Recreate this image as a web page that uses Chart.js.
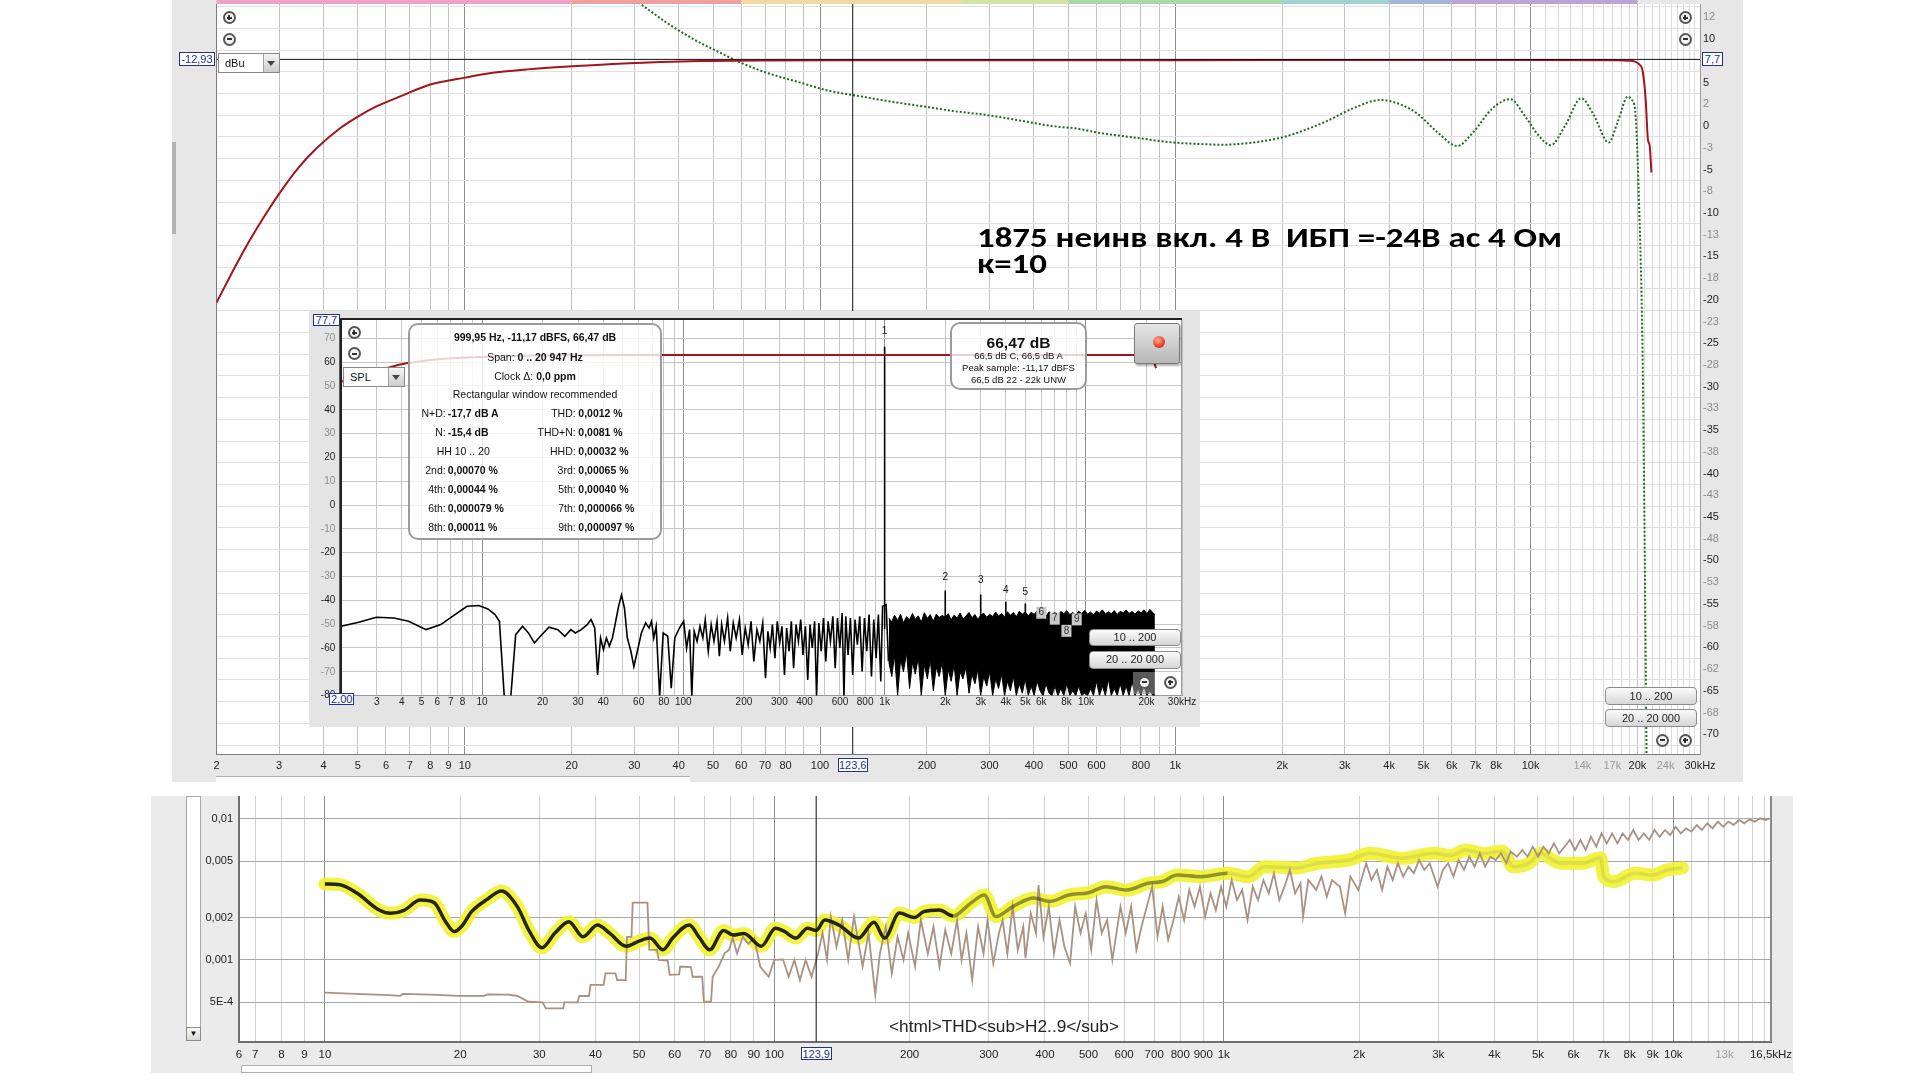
<!DOCTYPE html>
<html><head><meta charset="utf-8">
<script src="https://cdn.jsdelivr.net/npm/chart.js@4.4.1/dist/chart.umd.min.js"></script>
<style>
html,body{margin:0;padding:0;background:#fff;}
#root{position:relative;width:1930px;height:1080px;overflow:hidden;font-family:'Liberation Sans',Arial,sans-serif;color:#111;}
.abs{position:absolute;}
canvas{display:block;}
.zi{position:absolute;width:13px;height:13px;border-radius:50%;border:2px solid #555;box-sizing:border-box;background:#f4f4f4;}
.zi:before{content:'';position:absolute;left:2px;right:2px;top:50%;height:2px;margin-top:-1px;background:#333;}
.zi.p:after{content:'';position:absolute;top:2px;bottom:2px;left:50%;width:2px;margin-left:-1px;background:#333;}
.dd{position:absolute;background:#fff;border:1px solid #8a8a8a;box-sizing:border-box;font-size:11px;}
.dd span{position:absolute;left:6px;top:3px;}
.dd i{position:absolute;right:0;top:0;bottom:0;width:15px;background:linear-gradient(#f4f4f4,#cdcdcd);border-left:1px solid #a0a0a0;}
.dd i:after{content:'';position:absolute;left:3px;top:7px;border-left:4.5px solid transparent;border-right:4.5px solid transparent;border-top:5px solid #444;}
.cb{position:absolute;border:1px solid #22308f;background:#fff;color:#22308f;font-size:11px;text-align:center;box-sizing:border-box;line-height:12px;}
.btn{position:absolute;border:1px solid #8c8c8c;border-radius:4px;background:linear-gradient(#fbfbfb,#d6d6d6);box-sizing:border-box;font-size:11px;text-align:center;color:#222;}
.ib{position:absolute;border:2px solid #9b9b9b;border-radius:10px;background:rgba(255,255,255,0.8);box-sizing:border-box;font-size:10.5px;color:#111;}
.ib div{position:absolute;white-space:nowrap;height:14px;line-height:14px;}
</style></head>
<body><div id="root">
<div class="abs" style="left:172px;top:0;width:1571px;height:782px;background:#e7e7e7"><canvas id="mainC" width="1571" height="782" style="width:1571px;height:782px"></canvas></div>
<div class="abs" style="left:172px;top:142px;width:4px;height:92px;background:#b4b4b4"></div>
<div class="abs" style="left:216px;top:776px;width:474px;height:6px;background:#fff;border-top:1px solid #b0b0b0"></div>
<div class="abs" style="left:309px;top:311px;width:891px;height:416px;background:#e4e4e4"><canvas id="insetC" width="891" height="416" style="width:891px;height:416px"></canvas></div>
<div class="abs" style="left:151px;top:796px;width:1642px;height:277px;background:#ebebeb"><canvas id="thdC" width="1642" height="277" style="width:1642px;height:277px"></canvas></div>
<div class="abs" style="left:186px;top:796px;width:15px;height:245px;background:#fff;border:1px solid #a8a8a8;box-sizing:border-box"></div>
<div class="abs" style="left:186px;top:1027px;width:15px;height:14px;background:linear-gradient(#fafafa,#d8d8d8);border:1px solid #8c8c8c;box-sizing:border-box;font-size:8px;text-align:center;line-height:12px">&#9660;</div>
<div class="abs" style="left:241px;top:1065px;width:351px;height:8px;background:#fff;border:1px solid #b0b0b0;box-sizing:border-box"></div>
</div>
<script>
// ---------------- DATA ----------------
// main chart: frequency response (left axis, dBu)
const redFreq  = [2, 2.2, 2.4, 2.7, 3.0, 3.4, 3.8, 4.4, 5.0, 5.6, 6.5, 8.0, 10, 12, 15, 20, 28, 46, 70, 150, 500, 2000, 10000, 17000, 19000, 19600, 20200, 20700, 21100, 21400, 21650, 21900];
const redLevel = [-24.13, -22.82, -21.67, -20.27, -19.12, -17.92, -17.07, -16.17, -15.57, -15.12, -14.67, -14.09, -13.77, -13.55, -13.39, -13.25, -13.12, -13.01, -12.98, -12.97, -12.97, -12.96, -12.96, -12.97, -12.99, -13.02, -13.15, -13.5, -14.8, -16.6, -16.9, -18.14];
// main chart: dotted green curve (right axis)
const greenFreq  = [22, 27, 31.6, 37, 44.5, 52, 59, 70, 88, 105, 131, 165, 200, 240, 291, 370, 450, 530, 614, 760, 991, 1150, 1350, 1650, 2000, 2300, 2680, 3150, 3780, 4300, 4810, 5500, 6220, 6900, 7800, 8760, 9700, 10500, 11400, 12500, 13900, 15100, 16600, 17600, 18800, 19300, 19700, 20200, 20700, 21300];
const greenLevel = [18.5, 15.8, 13.9, 11.9, 9.9, 8.5, 7.4, 6.2, 5.0, 4.1, 3.4, 2.7, 2.2, 1.7, 1.3, 0.6, 0.0, -0.3, -0.8, -1.3, -1.9, -2.05, -2.15, -1.9, -1.3, -0.5, 0.6, 2.0, 3.0, 2.5, 1.4, -0.8, -2.3, -0.7, 2.0, 3.1, 1.0, -1.0, -2.2, 0.0, 3.2, 1.2, -1.9, 0.5, 3.4, 3.0, 1.8, -8.6, -27.8, -80];
const mainCursorHz = 123.6;
const mainCursorDbu = -12.93;
const bandEdges  = [2, 20, 60, 250, 500, 2000, 4000, 6000, 20000];
const bandColors = ['#eea3c6', '#ee9f9f', '#f2d9a4', '#d3e4a8', '#a9d9ab', '#9fd2d0', '#a5b4db', '#baa6d3'];
// main axes
const mainXTicks  = [2,3,4,5,6,7,8,9,10,20,30,40,50,60,70,80,90,100,200,300,400,500,600,700,800,900,1000,2000,3000,4000,5000,6000,7000,8000,9000,10000,11000,12000,13000,14000,15000,16000,17000,18000,19000,20000,21000,22000,23000,24000,25000,26000,27000,28000,29000,30000];
const mainXLabels = ['2','3','4','5','6','7','8','9','10','20','30','40','50','60','70','80','','100','200','300','400','500','600','','800','','1k','2k','3k','4k','5k','6k','7k','8k','','10k','','','','14k','','','17k','','','20k','','','','24k','','','','','','30kHz'];
const mainXLight  = ['14k','17k','24k'];
const leftYTicks  = [-44,-43,-42,-41,-40,-39,-38,-37,-36,-35,-34,-33,-32,-31,-30,-29,-28,-27,-26,-25,-24,-23,-22,-21,-20,-19,-18,-17,-16,-15,-14,-13,-12,-11];
const rightYTicks = [12.5,10,7.5,5,2.5,0,-2.5,-5,-7.5,-10,-12.5,-15,-17.5,-20,-22.5,-25,-27.5,-30,-32.5,-35,-37.5,-40,-42.5,-45,-47.5,-50,-52.5,-55,-57.5,-60,-62.5,-65,-67.5,-70];
const rightYLabels= ['12','10','','5','2','0','-3','-5','-8','-10','-13','-15','-18','-20','-23','-25','-28','-30','-33','-35','-38','-40','-43','-45','-48','-50','-53','-55','-58','-60','-62','-65','-68','-70'];

// inset: FFT spectrum (dB SPL)
const fftLowFreq = [2, 2.44, 2.99, 3.65, 4.32, 5.28, 6.24, 7.13, 8.43, 9.63,
  10.7, 11.6, 12.2, 12.9, 13.9, 14.7, 15.9, 17.0, 18.2, 19.5,
  21.5, 23.8, 25.8, 27.6, 29.1, 31.1, 33.3, 34.8, 36.3, 37.5,
  38.8, 40.1, 41.5, 42.9, 44.4, 45.8, 47.7, 49.3, 51.0, 52.7,
  54.9, 56.8, 59.1, 61.9, 65.0, 67.6, 69.5, 71.3, 73.3, 76.3,
  79.4, 83.7, 87.1, 90.7, 95.7, 100.4, 103.8, 107.4, 110.2, 113.2,
  117, 121, 125, 128.5, 133, 137.5, 142, 147, 151, 155,
  160, 166, 171, 177, 183, 190, 196, 203, 210, 217,
  224, 232, 240, 248, 256, 263, 270, 277, 285, 293,
  301, 309, 318, 326, 335, 344, 353, 363, 373, 383,
  393, 404, 415, 426, 437, 449, 459, 471, 484, 497,
  510, 524, 538, 553, 568, 583, 599, 615, 628, 641,
  658, 676, 694, 713, 732, 752, 773, 794, 815, 837,
  860, 883, 907, 931, 957, 977, 1017, 1045];
const fftLowLevel = [-50.9, -49.2, -47.1, -47.4, -48.8, -52.3, -50.2, -46.7, -42.5, -42.2,
  -43.6, -46.0, -48.8, -80.4, -80.4, -54.4, -50.9, -53.7, -57.9, -55.1,
  -51.3, -52.3, -55.1, -52.3, -53.7, -52.3, -50.2, -48.1, -51.6, -71.3,
  -55.8, -60.7, -55.8, -59.3, -55.8, -50.2, -42.5, -37.8, -43.2, -55.8,
  -61.4, -67.8, -61.4, -53.7, -49.5, -51.6, -48.8, -55.8, -50.9, -80.4,
  -53.7, -55.1, -76.9, -55.8, -51.6, -48.8, -60, -52.3, -80.4, -53,
  -57.2, -50.9, -55.8, -48.1, -61.4, -50.2, -57.2, -48.8, -63.5, -50.2,
  -57.2, -47.4, -61.4, -49.5, -55.8, -48.1, -62.9, -51.6, -58.6, -48.8,
  -65.7, -52.3, -57.2, -49.5, -72.7, -53, -60, -50.2, -64.3, -48.8,
  -57.9, -50.9, -71.3, -51.6, -61.4, -48.8, -68.5, -50.2, -57.2, -48.1,
  -62.9, -50.9, -73.4, -50.2, -60, -48.8, -80.4, -49.5, -61.4, -47.4,
  -65.7, -48.8, -57.2, -46.7, -68.5, -47.4, -60, -45.3, -80.4, -46.7,
  -62.9, -47.4, -71.3, -48.1, -58.6, -46.7, -69.9, -47.4, -61.4, -46,
  -72, -48.1, -64.3, -46, -74.1, -42.5, -41.8, -65.7];
// dense noise above 1 kHz: upper and lower envelope
const envFreq = [1050, 1085, 1120, 1160, 1200, 1240, 1285, 1330, 1375, 1420,
  1470, 1520, 1575, 1630, 1685, 1745, 1805, 1865, 1930, 2000,
  2070, 2140, 2215, 2290, 2370, 2450, 2535, 2625, 2715, 2810,
  2905, 3000, 3105, 3215, 3325, 3440, 3560, 3680, 3810, 3940,
  4075, 4215, 4360, 4510, 4665, 4830, 4995, 5170, 5345, 5530,
  5720, 5920, 6125, 6335, 6555, 6780, 7015, 7255, 7505, 7765,
  8035, 8310, 8600, 8895, 9200, 9520, 9850, 10190, 10540, 10900,
  11280, 11670, 12070, 12490, 12920, 13360, 13820, 14300, 14800, 15310,
  15840, 16380, 16950, 17530, 18140, 18770, 19410, 20080, 20780, 21500, 22000];
const envUpper = [-47.5, -49.0, -46.2, -48.5, -45.8, -49.5, -46.8, -48.2, -45.5, -47.9,
  -46.5, -49.2, -45.2, -47.6, -46.0, -48.8, -45.8, -47.2, -46.4, -47.0,
  -45.6, -48.1, -46.2, -47.5, -45.3, -47.8, -46.6, -45.1, -47.3, -46.0,
  -48.0, -46.2, -45.4, -47.1, -45.9, -46.8, -44.9, -46.6, -45.5, -47.0,
  -44.8, -46.3, -45.1, -46.9, -44.6, -45.8, -44.9, -46.5, -45.0, -45.9,
  -44.5, -46.2, -45.3, -46.7, -44.8, -45.9, -45.0, -46.4, -44.7, -45.6,
  -44.4, -46.0, -45.1, -46.3, -44.6, -45.5, -44.2, -45.8, -44.9, -46.1,
  -44.5, -45.4, -44.0, -45.7, -44.8, -45.6, -44.3, -45.9, -44.6, -45.2,
  -44.1, -45.5, -44.7, -45.8, -44.4, -45.3, -44.0, -45.6, -43.8, -45.2, -46.0];
const envLower = [-66, -72, -63, -80, -65, -70, -62, -77, -66, -71,
  -64, -80, -67, -73, -65, -78, -68, -72, -66, -80,
  -69, -74, -67, -80, -70, -73, -68, -79, -71, -75,
  -69, -80, -72, -76, -70, -80, -73, -77, -71, -80,
  -74, -78, -72, -80, -75, -79, -73, -80, -76, -80,
  -74, -78, -80, -75, -79, -80, -76, -80, -77, -80,
  -75, -80, -78, -80, -76, -80, -79, -80, -77, -80,
  -74, -80, -76, -80, -73, -80, -77, -80, -75, -80,
  -76, -80, -74, -80, -77, -80, -75, -80, -78, -80, -80];
const harmFreq  = [1000, 2000, 3000, 4000, 5000, 6000, 7000, 8000, 9000];
const harmLevel = [66.5, -35.9, -37.6, -40.6, -41.3, -45.5, -47.0, -52.0, -47.5];
const harmLabel = ['1','2','3','4','5','6','7','8','9'];
const harmLabelLevel = [72.8, -30.3, -31.5, -35.7, -36.8, -45.2, -47.7, -52.8, -48.0];
const fftRedFreq  = [2, 2.5, 3, 3.6, 4.2, 5, 6, 8, 10.5, 15, 20, 50, 200, 1000, 10000, 19000, 20500, 21500, 22300];
const fftRedLevel = [51.8, 54.5, 56.5, 58.2, 59.5, 60.4, 61.2, 61.9, 62.3, 62.6, 62.8, 63, 63, 63, 63, 63, 62.5, 61, 57.5];
const insetXTicks  = [2,3,4,5,6,7,8,9,10,20,30,40,50,60,70,80,90,100,200,300,400,500,600,700,800,900,1000,2000,3000,4000,5000,6000,7000,8000,9000,10000,20000,30000];
const insetXLabels = ['','3','4','5','6','7','8','','10','20','30','40','','60','','80','','100','200','300','400','','600','','800','','1k','2k','3k','4k','5k','6k','','8k','','10k','20k','30kHz'];
const insetYTicks  = [-80,-75,-70,-65,-60,-55,-50,-45,-40,-35,-30,-25,-20,-15,-10,-5,0,5,10,15,20,25,30,35,40,45,50,55,60,65,70,75];

// THD chart
const thdFreq = [10, 10.8, 11.8, 13.2, 14.0, 15.0, 16.3, 17.5, 18.5, 19.4, 20.2, 21.2, 23.0, 24.7, 26.8, 28.5, 30.4, 32.5, 34.9, 37.5, 40.4, 43, 46.8, 50, 52.9, 56.5, 59.4, 64.7, 68, 71.8, 77.1, 81, 85.6, 93.5, 100.6, 105, 111.7, 118.5, 124, 129.4, 140, 153.8, 166.6, 175.9, 189.7, 205, 215, 232.8, 250, 273.1, 293.2, 311, 340, 378, 410, 452, 500, 546, 608, 678, 730, 787, 889, 1019, 1135, 1231, 1449, 1615, 1900, 2117, 2493, 2933, 3200, 3451, 3800, 4171, 4402, 4780, 5051, 5623, 6270, 6890, 7000, 7380, 8220, 9000, 9660, 10490];
const thdValue = [3.46e-3, 3.42e-3, 2.97e-3, 2.26e-3, 2.14e-3, 2.25e-3, 2.66e-3, 2.55e-3, 1.9e-3, 1.59e-3, 1.75e-3, 2.2e-3, 2.7e-3, 3.08e-3, 2.39e-3, 1.6e-3, 1.22e-3, 1.55e-3, 1.87e-3, 1.46e-3, 1.77e-3, 1.55e-3, 1.25e-3, 1.36e-3, 1.43e-3, 1.18e-3, 1.43e-3, 1.77e-3, 1.45e-3, 1.18e-3, 1.62e-3, 1.5e-3, 1.54e-3, 1.25e-3, 1.68e-3, 1.6e-3, 1.43e-3, 1.68e-3, 1.62e-3, 1.92e-3, 1.75e-3, 1.43e-3, 1.85e-3, 1.43e-3, 2.15e-3, 2.0e-3, 2.2e-3, 2.26e-3, 2.05e-3, 2.52e-3, 2.89e-3, 2.03e-3, 2.4e-3, 2.75e-3, 2.6e-3, 2.89e-3, 3.0e-3, 3.31e-3, 3.13e-3, 3.5e-3, 3.6e-3, 4.01e-3, 3.9e-3, 4.12e-3, 3.9e-3, 4.59e-3, 4.5e-3, 4.85e-3, 5.12e-3, 5.71e-3, 5.26e-3, 5.71e-3, 5.5e-3, 6.03e-3, 5.7e-3, 5.9e-3, 4.59e-3, 4.85e-3, 5.71e-3, 4.85e-3, 4.85e-3, 5.3e-3, 3.9e-3, 3.6e-3, 4.12e-3, 4.0e-3, 4.35e-3, 4.5e-3];
const noiseFreq = [10, 11.7, 13.9, 14.7, 14.9, 17.2, 19.9, 22.6, 23.0, 25.6, 26.8, 28.4, 30.5, 31.0, 33.9, 34.1, 36.5, 36.8, 38.7, 39.0, 41.7, 42.1, 44.3, 44.7, 46.7, 47.0, 48.1, 48.4, 52.2, 52.7, 54.8, 55.3, 57.9, 58.5, 61.4, 61.7, 65.2, 65.8, 69.1, 69.7, 72.3, 72.9, 75.2, 77.5, 79.3, 80.8, 82.6, 85.1, 87.5, 90.2, 93.0, 97.1, 100, 104.5, 107.6, 110.8, 114, 117.4, 121, 125.1, 128, 131, 133.5, 137.5, 141.6, 146, 150.4, 157.2, 162, 167.7, 171.7, 177, 182.5, 188, 193.8, 198.5, 205.6, 211.8, 219.5, 226, 233, 240, 247.5, 255, 261, 267.5, 275.5, 284, 292, 298, 307, 316,
  322, 330, 339, 348, 358, 362, 372, 382, 387, 397, 408, 419, 431, 442, 455, 467, 480, 493, 507, 521, 535, 550, 565, 589, 605, 622, 639, 656, 674, 693, 712, 731, 752, 773, 794, 816, 838, 861, 885, 909, 934, 960, 986, 1013, 1041, 1070, 1099, 1129, 1160, 1192, 1225, 1259, 1293, 1329, 1365, 1403, 1441, 1481, 1501, 1542, 1605, 1649, 1695, 1741, 1813, 1862, 1913, 1992, 2074, 2131, 2190, 2250, 2312, 2375, 2440, 2507, 2576, 2647, 2720, 2794, 2871, 2990, 3072, 3156, 3243, 3332, 3423, 3517, 3614, 3713, 3815, 3920, 4028, 4138, 4252, 4345, 4490, 4613, 4740, 4870, 5004, 5141, 5282, 5427, 5576, 5729, 5887, 6048, 6214, 6385, 6560, 6740, 6925, 7116, 7311, 7512, 7718, 7930, 8147, 8371, 8601, 8837, 9080, 9329, 9585, 9848, 10118, 10396, 10681, 10974, 11275, 11585, 11903, 12230, 12566, 12911, 13265, 13629, 14003, 14388, 14783, 15188, 15605, 16034, 16382];
const noiseValue = [5.87e-4, 5.74e-4, 5.62e-4, 5.56e-4, 5.74e-4, 5.67e-4, 5.56e-4, 5.56e-4, 5.7e-4, 5.67e-4, 5.55e-4, 5.05e-4, 5.0e-4, 4.53e-4, 4.53e-4, 5.0e-4, 5.0e-4, 5.55e-4, 5.55e-4, 6.65e-4, 6.65e-4, 8.04e-4, 8.04e-4, 7.2e-4, 7.2e-4, 1.46e-3, 1.46e-3, 2.55e-3, 2.55e-3, 1.18e-3, 1.18e-3, 1.0e-3, 9.9e-4, 7.83e-4, 7.9e-4, 8.98e-4, 8.9e-4, 7.6e-4, 7.6e-4, 5.06e-4, 5.06e-4, 7.6e-4, 8.98e-4, 1.115e-3, 1.18e-3, 1.43e-3, 1.11e-3, 1.46e-3, 1.3e-3, 1.43e-3, 8.98e-4, 7.6e-4, 1.0e-3, 1.01e-3, 7.6e-4, 1.0e-3, 7.2e-4, 1.0e-3, 7.6e-4, 1.11e-3, 1.55e-3, 1.0e-3, 2.03e-3, 1.24e-3, 1.92e-3, 1.0e-3, 2.03e-3, 8.98e-4, 1.55e-3, 5.67e-4, 1.11e-3, 1.72e-3, 8.04e-4, 1.46e-3, 1.0e-3, 1.55e-3, 8.98e-4, 1.92e-3, 1.11e-3, 1.72e-3, 8.98e-4, 1.63e-3, 1.11e-3, 1.92e-3, 1.0e-3, 1.55e-3, 7.2e-4, 1.72e-3, 1.11e-3, 1.92e-3, 9.47e-4, 1.55e-3,
  1.92e-3, 1.11e-3, 2.39e-3, 1.18e-3, 1.72e-3, 1.03e-3, 2.14e-3, 1.55e-3, 3.4e-3, 1.46e-3, 2.39e-3, 1.11e-3, 1.92e-3, 1.24e-3, 9.47e-4, 2.39e-3, 1.55e-3, 2.14e-3, 1.18e-3, 2.66e-3, 1.55e-3, 1.92e-3, 1.0e-3, 2.39e-3, 1.55e-3, 2.39e-3, 1.18e-3, 1.72e-3, 2.39e-3, 3.31e-3, 1.46e-3, 2.39e-3, 1.39e-3, 1.92e-3, 2.81e-3, 1.92e-3, 3.14e-3, 2.39e-3, 3.31e-3, 2.03e-3, 2.97e-3, 2.26e-3, 3.31e-3, 2.39e-3, 3.69e-3, 2.66e-3, 3.14e-3, 1.92e-3, 3.31e-3, 2.66e-3, 3.69e-3, 2.97e-3, 4.12e-3, 2.66e-3, 3.31e-3, 4.35e-3, 2.97e-3, 3.5e-3, 2.03e-3, 3.69e-3, 3.14e-3, 3.9e-3, 2.81e-3, 3.69e-3, 3.31e-3, 2.14e-3, 3.9e-3, 3.14e-3, 4.85e-3, 3.69e-3, 4.35e-3, 3.14e-3, 4.59e-3, 3.69e-3, 4.85e-3, 3.9e-3, 4.59e-3, 4.12e-3, 5.12e-3, 4.35e-3, 4.85e-3, 3.31e-3, 4.35e-3, 4.85e-3, 3.9e-3, 5.12e-3, 4.35e-3, 5.4e-3, 4.59e-3, 5.71e-3, 4.59e-3, 5.4e-3, 5.12e-3, 5.71e-3, 4.85e-3, 5.87e-3, 5.4e-3, 6.03e-3, 5.4e-3, 6.36e-3, 5.4e-3, 6.36e-3, 5.71e-3, 6.72e-3, 5.71e-3, 6.36e-3, 7.1e-3, 6.03e-3, 7.1e-3, 6.03e-3, 7.49e-3, 6.36e-3, 7.91e-3, 6.72e-3, 7.91e-3, 6.72e-3, 7.91e-3, 7.1e-3, 8.36e-3, 7.1e-3, 7.91e-3, 7.1e-3, 8.36e-3, 7.49e-3, 8.36e-3, 7.7e-3, 8.82e-3, 7.91e-3, 8.59e-3, 8.13e-3, 9.07e-3, 8.36e-3, 9.32e-3, 8.59e-3, 9.57e-3, 8.82e-3, 9.57e-3, 9.07e-3, 9.84e-3, 9.32e-3, 9.9e-3, 9.57e-3, 1.011e-2, 9.84e-3, 1.011e-2];
const thdCursorHz = 123.9;
const thdXTicks  = [6.44,7,8,9,10,20,30,40,50,60,70,80,90,100,200,300,400,500,600,700,800,900,1000,2000,3000,4000,5000,6000,7000,8000,9000,10000,11000,12000,13000,14000,15000,16000,16500];
const thdXLabels = ['6','7','8','9','10','20','30','40','50','60','70','80','90','100','200','300','400','500','600','700','800','900','1k','2k','3k','4k','5k','6k','7k','8k','9k','10k','','','13k','','','','16,5kHz'];
const thdYTicks  = [0.0005, 0.001, 0.002, 0.005, 0.01];
const thdYLabels = ['5E-4', '0,001', '0,002', '0,005', '0,01'];

// ---------------- HELPERS ----------------
const FONT = "'Liberation Sans', Arial, sans-serif";
Chart.defaults.font.family = FONT;
function P(xs, ys){ return xs.map((x,i)=>({x:x, y:ys[i]})); }
function fixAxis(size, horiz){ return function(s){ if(horiz) s.height=size; else s.width=size; s.paddingTop=0; s.paddingBottom=0; s.paddingLeft=0; s.paddingRight=0; }; }
function setTicks(vals){ return function(s){ s.ticks = vals.map(v=>({value:v})); }; }
const isDecade = v => Math.abs(Math.log10(v) - Math.round(Math.log10(v))) < 1e-9;
const plotBg = {id:'plotBg', beforeDraw(chart){ const a=chart.chartArea, c=chart.ctx; c.save(); c.fillStyle='#fff'; c.fillRect(a.left,a.top,a.right-a.left,a.bottom-a.top); c.restore(); }};
const bandStrip = {id:'bandStrip', afterDraw(chart){ const x=chart.scales.x, a=chart.chartArea, c=chart.ctx; c.save();
  for(let i=0;i<bandColors.length;i++){ const x0=Math.max(a.left,x.getPixelForValue(bandEdges[i])), x1=Math.min(a.right,x.getPixelForValue(bandEdges[i+1])); c.fillStyle=bandColors[i]; c.fillRect(x0,0,x1-x0,a.top); }
  c.restore(); }};
const insetFrame = {id:'insetFrame', afterDraw(chart){ const a=chart.chartArea, c=chart.ctx, x=chart.scales.x, y=chart.scales.y; c.save();
  c.strokeStyle='#9a9a9a'; c.lineWidth=1; c.beginPath(); c.moveTo(a.right-0.5,a.top); c.lineTo(a.right-0.5,a.bottom); c.stroke();
  c.strokeStyle='#222'; c.lineWidth=2; c.beginPath(); c.moveTo(a.left-1,a.bottom); c.lineTo(a.left-1,a.top-1); c.lineTo(a.right,a.top-1); c.stroke();
  c.font='10px '+FONT; c.textAlign='center'; c.textBaseline='middle';
  for(let i=0;i<harmFreq.length;i++){ const px=x.getPixelForValue(harmFreq[i]), py=y.getPixelForValue(harmLabelLevel[i]);
    if(i>=5){ c.fillStyle='#c9c9c9'; c.fillRect(px-5,py-6,10,12); c.fillStyle='#333'; } else { c.fillStyle='#111'; }
    c.fillText(harmLabel[i], px, py); }
  c.restore(); }};
const thdFrame = {id:'thdFrame', afterDraw(chart){ const a=chart.chartArea, c=chart.ctx; c.save(); c.strokeStyle='#8a8a8a'; c.lineWidth=2; c.beginPath(); c.moveTo(a.right,a.top); c.lineTo(a.right,a.bottom); c.stroke(); c.restore(); }};

// ---------------- MAIN CHART ----------------
const mainChart = new Chart(document.getElementById('mainC'), {
  type:'line',
  data:{datasets:[
    {data:[{x:mainCursorHz,y:-60},{x:mainCursorHz,y:0}], borderColor:'#111', borderWidth:1, pointRadius:0, order:0},
    {data:[{x:1,y:mainCursorDbu},{x:100000,y:mainCursorDbu}], borderColor:'#111', borderWidth:1, pointRadius:0, order:0},
    {data:P(redFreq, redLevel), borderColor:'#a3141c', borderWidth:2, pointRadius:0, cubicInterpolationMode:'monotone', order:1},
    {data:P(greenFreq, greenLevel), yAxisID:'y2', borderColor:'#1c6b1e', borderWidth:2, borderDash:[2,2], pointRadius:0, cubicInterpolationMode:'monotone', order:2}
  ]},
  options:{
    responsive:false, animation:false, devicePixelRatio:1, events:[],
    layout:{padding:{top:4,left:0,right:0,bottom:0}},
    plugins:{legend:{display:false}, tooltip:{enabled:false}},
    scales:{
      x:{type:'logarithmic', min:2, max:30000, bounds:'data', afterBuildTicks:setTicks(mainXTicks), afterFit:fixAxis(28,true),
        ticks:{autoSkip:false, maxRotation:0, minRotation:0, padding:5, font:{size:11}, color:c=>mainXLight.includes(mainXLabels[c.index])?'#9a9a9a':'#222', callback:(v,i)=>mainXLabels[i]},
        grid:{drawTicks:false, color:c=>{const v=c.tick.value; if(isDecade(v)) return '#8e8e8e'; if(v>10000 && v!==20000) return '#dcdcdc'; return '#c2c2c2';}},
        border:{color:'#7c7c7c', width:1}},
      y:{type:'linear', position:'left', min:-44.91, max:-10.38, bounds:'data',
        afterBuildTicks:s=>{ const t=[]; leftYTicks.forEach(v=>{t.push({value:v}); t.push({value:v+0.5});}); t.unshift({value:leftYTicks[0]-0.5}); s.ticks=t; },
        afterFit:fixAxis(44.5,false),
        ticks:{padding:5, font:{size:11}, color:c=>(Math.abs(c.tick.value)%2===0)?'#1e1e1e':'#8c8c8c', callback:(v)=>Number.isInteger(v)?String(v):''},
        grid:{drawTicks:false, color:c=>{const v=c.tick.value; return (Number.isInteger(v) && Math.abs(v)%2===0)?'#c2c2c2':'#e0e0e0';}},
        border:{color:'#7c7c7c', width:1}},
      y2:{type:'linear', position:'right', min:-72.28, max:14.05, bounds:'data', afterBuildTicks:setTicks(rightYTicks), afterFit:fixAxis(43,false),
        ticks:{padding:3, font:{size:11}, color:c=>(c.tick.value%5===0)?'#1e1e1e':'#8c8c8c', callback:(v,i)=>rightYLabels[i]},
        grid:{drawOnChartArea:false, drawTicks:false}, border:{color:'#9a9a9a', width:1}}
    }
  },
  plugins:[plotBg, bandStrip]
});

// ---------------- INSET CHART ----------------
const harmPts = [];
harmFreq.forEach((f,i)=>{ harmPts.push({x:f,y:-52}); harmPts.push({x:f,y:harmLevel[i]}); harmPts.push({x:f,y:null}); });
const insetChart = new Chart(document.getElementById('insetC'), {
  type:'line',
  data:{datasets:[
    {data:P(envFreq, envUpper), borderColor:'#000', borderWidth:1, pointRadius:0, fill:false, order:3},
    {data:P(envFreq, envLower), borderColor:'#000', borderWidth:1, pointRadius:0, fill:'-1', backgroundColor:'#000', order:3},
    {data:P(fftLowFreq, fftLowLevel), borderColor:'#000', borderWidth:1.6, pointRadius:0, order:2},
    {data:harmPts, borderColor:'#000', borderWidth:1.6, pointRadius:0, spanGaps:false, order:1},
    {data:P(fftRedFreq, fftRedLevel), borderColor:'#a3141c', borderWidth:2, pointRadius:0, cubicInterpolationMode:'monotone', order:0}
  ]},
  options:{
    responsive:false, animation:false, devicePixelRatio:1, events:[],
    layout:{padding:{top:9,left:0,right:18,bottom:0}},
    plugins:{legend:{display:false}, tooltip:{enabled:false}},
    scales:{
      x:{type:'logarithmic', min:2, max:30000, bounds:'data', afterBuildTicks:setTicks(insetXTicks), afterFit:fixAxis(31.4,true),
        ticks:{autoSkip:false, maxRotation:0, minRotation:0, padding:1, font:{size:10}, color:'#222', callback:(v,i)=>insetXLabels[i]},
        grid:{drawTicks:false, color:c=>isDecade(c.tick.value)?'#8e8e8e':'#c6c6c6'}, border:{color:'#9a9a9a'}},
      y:{type:'linear', position:'left', min:-80, max:77.7, bounds:'data', afterBuildTicks:setTicks(insetYTicks), afterFit:fixAxis(32.3,false),
        ticks:{padding:6, font:{size:10}, color:c=>(Math.abs(c.tick.value)%20===0)?'#1e1e1e':'#8c8c8c', callback:v=>(v%10===0)?String(v):''},
        grid:{drawTicks:false, color:c=>(c.tick.value%10===0)?'#c6c6c6':'#e2e2e2'}, border:{color:'#222'}}
    }
  },
  plugins:[plotBg, insetFrame]
});

// ---------------- THD CHART ----------------
const thdChart = new Chart(document.getElementById('thdC'), {
  type:'line',
  data:{datasets:[
    {data:[{x:thdCursorHz,y:1e-5},{x:thdCursorHz,y:1}], borderColor:'#111', borderWidth:1, pointRadius:0, order:0},
    {data:P(thdFreq, thdValue), borderColor:'#26260e', borderWidth:3.5, pointRadius:0, cubicInterpolationMode:'monotone', order:1,
      segment:{borderColor:c=>{const x=c.p0.parsed.x; return x>900?'rgba(150,150,70,0.22)':(x>240?'rgba(50,50,15,0.5)':'#26260e');}}},
    {data:P(noiseFreq, noiseValue), borderColor:'#a89283', borderWidth:1.8, pointRadius:0, order:2},
    {data:P(thdFreq, thdValue), borderColor:'rgba(242,242,50,0.9)', borderWidth:13, pointRadius:0, cubicInterpolationMode:'monotone', borderCapStyle:'round', borderJoinStyle:'round', order:3}
  ]},
  options:{
    responsive:false, animation:false, devicePixelRatio:1, events:[],
    layout:{padding:{top:0,left:0,right:22,bottom:0}},
    plugins:{legend:{display:false}, tooltip:{enabled:false}},
    scales:{
      x:{type:'logarithmic', min:6.44, max:16500, bounds:'data', afterBuildTicks:setTicks(thdXTicks), afterFit:fixAxis(31.3,true),
        ticks:{autoSkip:false, maxRotation:0, minRotation:0, padding:6, font:{size:11.5}, color:c=>thdXLabels[c.index]==='13k'?'#a0a0a0':'#222', callback:(v,i)=>thdXLabels[i]},
        grid:{drawTicks:false, color:c=>isDecade(c.tick.value)?'#8c8c8c':'#cfcfcf'}, border:{color:'#707070', width:2}},
      y:{type:'logarithmic', position:'left', min:2.63e-4, max:0.01456, bounds:'data', afterBuildTicks:setTicks(thdYTicks), afterFit:fixAxis(88,false),
        ticks:{padding:6, font:{size:11}, color:'#222', callback:(v,i)=>thdYLabels[i]},
        grid:{drawTicks:false, color:'#a8a8a8'}, border:{color:'#707070', width:2}}
    }
  },
  plugins:[plotBg, thdFrame]
});

// ---------------- OVERLAYS ----------------
const root = document.getElementById('root');
function el(cls, css, html){ const d=document.createElement('div'); if(cls) d.className=cls; d.style.cssText=css; if(html!==undefined) d.innerHTML=html; root.appendChild(d); return d; }
function zoomIcon(x,y,plus){ el('zi'+(plus?' p':''), 'left:'+(x-6.5)+'px;top:'+(y-6.5)+'px'); }
function btn(x,y,w,h,t){ el('btn','left:'+x+'px;top:'+y+'px;width:'+w+'px;height:'+h+'px;line-height:'+(h-2)+'px', t); }

// main overlays
const mX = mainChart.scales.x, mY = mainChart.scales.y;
const mainLeft = 172;
zoomIcon(229,17.5,true); zoomIcon(229,39,false); zoomIcon(1685,17.5,true); zoomIcon(1685,39,false);
el('dd','left:218px;top:53px;width:62px;height:20px','<span>dBu</span><i></i>');
const cy = mY.getPixelForValue(mainCursorDbu);
el('cb','left:179px;top:'+(cy-7)+'px;width:36px;height:14px','-12,93');
el('cb','left:1702px;top:'+(cy-7)+'px;width:21px;height:14px','7,7');
const cx = mainLeft + mX.getPixelForValue(mainCursorHz);
el('cb','left:'+(cx-15)+'px;top:758px;width:30px;height:14px','123,6');
btn(1605,687,92,18,'10 .. 200'); btn(1605,708.5,92,18,'20 .. 20 000');
zoomIcon(1662,740,false); zoomIcon(1685,740,true);
const t1 = el('', 'position:absolute;left:977px;top:224px;font:bold 28px Carlito,\'Liberation Sans\',Arial,sans-serif;line-height:28px;white-space:nowrap;transform-origin:0 0;color:#000');
t1.textContent = '1875 неинв вкл. 4 В\u00a0\u00a0ИБП =-24В ас 4 Ом';
const t2 = el('', 'position:absolute;left:977px;top:250px;font:bold 28px Carlito,\'Liberation Sans\',Arial,sans-serif;line-height:28px;white-space:nowrap;transform-origin:0 0;color:#000');
t2.textContent = 'к=10';
const sc = 585 / t1.getBoundingClientRect().width;
t1.style.transform = 'scaleX('+sc+')'; t2.style.transform = 'scaleX('+sc+')';

// inset overlays
const iX = insetChart.scales.x, iY = insetChart.scales.y;
el('cb','left:313px;top:'+(311+iY.getPixelForValue(77.7)-6)+'px;width:27px;height:12px;line-height:10px','77,7');
el('cb','left:'+(309+iX.getPixelForValue(2)-12)+'px;top:693px;width:25px;height:12px;line-height:10px','2,00');
zoomIcon(354,332.5,true); zoomIcon(354,353.5,false);
el('dd','left:343px;top:367px;width:62px;height:20px','<span>SPL</span><i></i>');
const ib = el('ib','left:408px;top:322.7px;width:254px;height:217.3px');
const infoHead = ['<b>999,95 Hz, -11,17 dBFS, 66,47 dB</b>', 'Span: <b>0 .. 20 947 Hz</b>', 'Clock \u0394: <b>0,0 ppm</b>', 'Rectangular window recommended'];
const infoRows = [['N+D:','-17,7 dB A','THD:','0,0012 %'], ['N:','-15,4 dB','THD+N:','0,0081 %'], ['HH 10 .. 20','','HHD:','0,00032 %'], ['2nd:','0,00070 %','3rd:','0,00065 %'], ['4th:','0,00044 %','5th:','0,00040 %'], ['6th:','0,000079 %','7th:','0,000066 %'], ['8th:','0,00011 %','9th:','0,000097 %']];
const rowY = [12.6, 32, 51, 69.6, 88.6, 107.6, 126.3, 145.3, 164.3, 183.6, 202.6];
infoHead.forEach((h,i)=>{ const d=document.createElement('div'); d.style.cssText='left:0;width:250px;text-align:center;top:'+(rowY[i]-7)+'px'; d.innerHTML=h; ib.appendChild(d); });
infoRows.forEach((r,i)=>{ const top=(rowY[i+4]-7)+'px';
  const a=document.createElement('div');
  if(r[1]===''){ a.style.cssText='left:26.7px;top:'+top; a.textContent=r[0]; ib.appendChild(a); }
  else { a.style.cssText='left:0;width:35.7px;text-align:right;top:'+top; a.textContent=r[0]; ib.appendChild(a);
    const b=document.createElement('div'); b.style.cssText='left:37.7px;top:'+top+';font-weight:bold'; b.textContent=r[1]; ib.appendChild(b); }
  const c=document.createElement('div'); c.style.cssText='left:0;width:165.7px;text-align:right;top:'+top; c.textContent=r[2]; ib.appendChild(c);
  const d=document.createElement('div'); d.style.cssText='left:168.3px;top:'+top+';font-weight:bold'; d.textContent=r[3]; ib.appendChild(d); });
const lb = el('ib','left:950px;top:321.7px;width:137px;height:68.3px');
[['66,47 dB',17,'bold 15.5px'],['66,5 dB C, 66,5 dB A',33,'9.5px'],['Peak sample: -11,17 dBFS',45.6,'9.5px'],['66,5 dB 22 - 22k UNW',57,'9.5px']].forEach(r=>{ const d=document.createElement('div'); d.style.cssText='left:0;width:133px;text-align:center;top:'+(r[1]-7)+'px;font:'+r[2]+' '+FONT; d.textContent=r[0]; lb.appendChild(d); });
el('', 'position:absolute;left:1134px;top:322.7px;width:46px;height:41.3px;box-sizing:border-box;border:1px solid #7a7a7a;border-radius:3px;background:linear-gradient(#e6e6e6,#b8b8b8);box-shadow:1px 2px 2px rgba(0,0,0,0.3)');
el('', 'position:absolute;left:1153px;top:336px;width:12px;height:12px;border-radius:50%;background:radial-gradient(circle at 40% 35%,#ffb49a,#e8401f 60%,#b82210);');
btn(1089,629,92,17,'10 .. 200'); btn(1089,651,92,17.5,'20 .. 20 000');
el('', 'position:absolute;left:1133px;top:672px;width:22px;height:22px;background:rgba(150,150,150,0.6)');
zoomIcon(1144,682,false); zoomIcon(1170,682,true);

// THD overlays
const tX = thdChart.scales.x;
const tcx = 151 + tX.getPixelForValue(thdCursorHz);
el('cb','left:'+(tcx-15.5)+'px;top:1047px;width:31px;height:13px','123,9');
const tl = el('', 'position:absolute;left:889px;top:1017px;font:16px \'Liberation Sans\',Arial,sans-serif;line-height:20px;white-space:nowrap;color:#222;transform-origin:0 0');
tl.textContent = '<html>THD<sub>H2..9</sub>';
tl.style.transform = 'scaleX('+(230/tl.getBoundingClientRect().width)+')';
</script>
</body></html>
